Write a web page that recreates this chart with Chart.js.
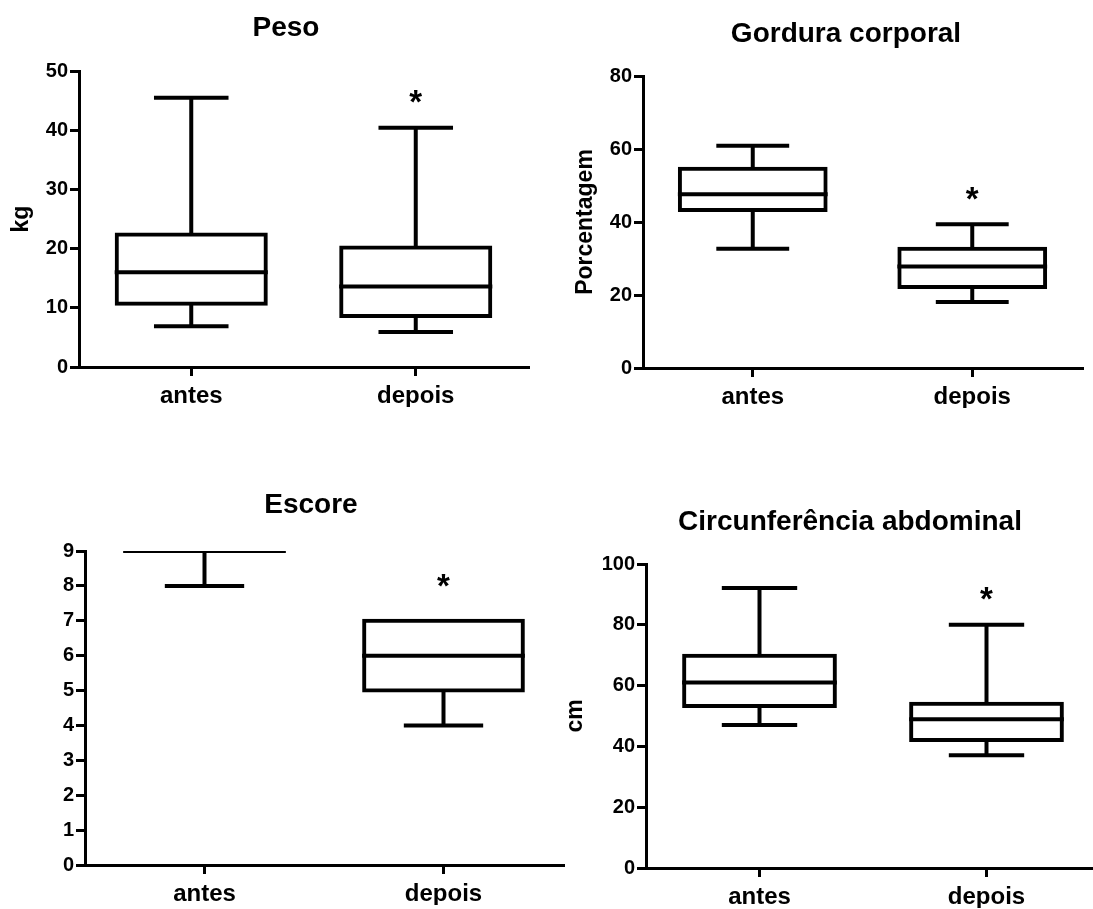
<!DOCTYPE html>
<html>
<head>
<meta charset="utf-8">
<title>Antes e depois</title>
<script src="https://cdn.jsdelivr.net/npm/chart.js@4.4.0/dist/chart.umd.min.js"></script>
<style>
  html, body { margin: 0; padding: 0; background: #fff; }
  body { width: 1093px; height: 909px; position: relative; overflow: hidden; }
  canvas { position: absolute; }
</style>
</head>
<body>
<canvas id="pesoChart" width="560" height="454" style="left:0px;top:0px"></canvas>
<canvas id="gorduraChart" width="547" height="454" style="left:546px;top:0px"></canvas>
<canvas id="escoreChart" width="570" height="455" style="left:0px;top:454px"></canvas>
<canvas id="circChart" width="570" height="455" style="left:546px;top:454px"></canvas>
<script>
const categories = ['antes', 'depois'];

// Peso (kg)
const pesoMin = [6.9, 5.9];
const pesoQ1 = [10.7, 8.6];
const pesoMedian = [16.0, 13.6];
const pesoQ3 = [22.4, 20.2];
const pesoMax = [45.5, 40.4];
const pesoStar = [null, 45.4];
const pesoTicks = [0, 10, 20, 30, 40, 50];

// Gordura corporal (%)
const gorduraMin = [32.7, 18.1];
const gorduraQ1 = [43.3, 22.2];
const gorduraMedian = [47.6, 27.8];
const gorduraQ3 = [54.6, 32.7];
const gorduraMax = [60.9, 39.4];
const gorduraStar = [null, 47.4];
const gorduraTicks = [0, 20, 40, 60, 80];

// Escore
const escoreMin = [8, 4];
const escoreQ1 = [9, 5];
const escoreMedian = [9, 6];
const escoreQ3 = [9, 7];
const escoreMax = [9, 7];
const escoreStar = [null, 8.1];
const escoreTicks = [0, 1, 2, 3, 4, 5, 6, 7, 8, 9];

// Circunferencia abdominal (cm)
const circMin = [47.0, 37.1];
const circQ1 = [53.3, 42.1];
const circMedian = [61.0, 48.9];
const circQ3 = [69.8, 54.0];
const circMax = [92.1, 80.0];
const circStar = [null, 89.6];
const circTicks = [0, 20, 40, 60, 80, 100];

const fontFamily = '"Liberation Sans", Arial, Helvetica, sans-serif';

function makeWhiskerPlugin(box) {
    return {
        id: 'whiskers',
        afterDatasetsDraw(chart) {
            const { ctx, chartArea } = chart;
            const y = chart.scales.y;
            const bars = chart.getDatasetMeta(0).data;
            const line = (x1, y1, x2, y2) => {
                ctx.beginPath();
                ctx.moveTo(x1, y1);
                ctx.lineTo(x2, y2);
                ctx.stroke();
            };
            ctx.save();
            ctx.beginPath();
            ctx.rect(chartArea.left, chartArea.top, chartArea.right - chartArea.left, chartArea.bottom - chartArea.top);
            ctx.clip();
            ctx.strokeStyle = '#000';
            ctx.fillStyle = '#000';
            ctx.lineWidth = 4;
            bars.forEach((bar, i) => {
                const half = bar.width / 2 + 2;
                const cap = bar.width / 4;
                const yMin = y.getPixelForValue(box.min[i]);
                const yQ1 = y.getPixelForValue(box.q1[i]);
                const yMed = y.getPixelForValue(box.median[i]);
                const yQ3 = y.getPixelForValue(box.q3[i]);
                const yMax = y.getPixelForValue(box.max[i]);
                if (box.max[i] > box.q3[i]) {
                    line(bar.x, yQ3, bar.x, yMax);
                    line(bar.x - cap, yMax, bar.x + cap, yMax);
                }
                if (box.min[i] < box.q1[i]) {
                    line(bar.x, yQ1, bar.x, yMin);
                    line(bar.x - cap, yMin, bar.x + cap, yMin);
                }
                line(bar.x - half, yMed, bar.x + half, yMed);
                // significance mark
                if (box.star[i] != null) {
                    ctx.font = `bold 33px ${fontFamily}`;
                    ctx.textAlign = 'center';
                    ctx.textBaseline = 'alphabetic';
                    ctx.fillText('*', bar.x, y.getPixelForValue(box.star[i]) + 0.45 * 33);
                }
            });
            ctx.restore();
        },
    };
}

function createBoxChart(canvasId, panel) {
    const axisGrid = {
        display: true,
        offset: false,
        drawOnChartArea: false,
        drawTicks: true,
        tickLength: 9,
        lineWidth: 3,
        color: '#000',
    };
    const axisBorder = { display: true, color: '#000', width: 3 };

    new Chart(document.getElementById(canvasId).getContext('2d'), {
        type: 'bar',
        data: {
            labels: categories,
            datasets: [
                {
                    data: panel.q1.map((v, i) => [v, panel.q3[i]]),
                    backgroundColor: '#fff',
                    borderColor: '#000',
                    borderWidth: 4,
                    borderSkipped: false,
                    inflateAmount: 2,
                    barPercentage: 0.664,
                    categoryPercentage: 1,
                },
            ],
        },
        options: {
            responsive: false,
            animation: false,
            devicePixelRatio: 1,
            events: [],
            layout: { padding: panel.padding },
            plugins: {
                legend: { display: false },
                tooltip: { enabled: false },
                title: {
                    display: true,
                    text: panel.title,
                    color: '#000',
                    font: { family: fontFamily, size: 28, weight: 'bold' },
                    padding: panel.titlePadding,
                },
            },
            scales: {
                x: {
                    offset: true,
                    grid: axisGrid,
                    border: axisBorder,
                    ticks: {
                        color: '#000',
                        font: { family: fontFamily, size: 24, weight: 'bold' },
                        padding: 6,
                        maxRotation: 0,
                    },
                    afterFit: scale => { scale.height = 40; },
                },
                y: {
                    min: 0,
                    max: panel.ticks[panel.ticks.length - 1],
                    afterBuildTicks: scale => { scale.ticks = panel.ticks.map(value => ({ value })); },
                    grid: axisGrid,
                    border: axisBorder,
                    ticks: {
                        color: '#000',
                        font: { family: fontFamily, size: 20, weight: 'bold' },
                        padding: 2,
                    },
                    title: {
                        display: !!panel.yTitle,
                        text: panel.yTitle || '',
                        color: '#000',
                        font: { family: fontFamily, size: 23, weight: 'bold' },
                        padding: { top: panel.yTitleOffset || 0, bottom: 0 },
                    },
                    afterFit: scale => { scale.width = panel.yWidth; },
                },
            },
        },
        plugins: [makeWhiskerPlugin(panel)],
    });
}

createBoxChart('pesoChart', {
    title: 'Peso', yTitle: 'kg',
    min: pesoMin, q1: pesoQ1, median: pesoMedian, q3: pesoQ3, max: pesoMax, star: pesoStar, ticks: pesoTicks,
    padding: { left: 44, right: 32, top: 0, bottom: 47 },
    titlePadding: { top: 11.2, bottom: 26.2 },
    yWidth: 35, yTitleOffset: -35.8,
});

createBoxChart('gorduraChart', {
    title: 'Gordura corporal', yTitle: 'Porcentagem',
    min: gorduraMin, q1: gorduraQ1, median: gorduraMedian, q3: gorduraQ3, max: gorduraMax, star: gorduraStar, ticks: gorduraTicks,
    padding: { left: 64, right: 11, top: 0, bottom: 46 },
    titlePadding: { top: 17.2, bottom: 25.2 },
    yWidth: 33, yTitleOffset: -37.8,
});

createBoxChart('escoreChart', {
    title: 'Escore', yTitle: '',
    min: escoreMin, q1: escoreQ1, median: escoreMedian, q3: escoreQ3, max: escoreMax, star: escoreStar, ticks: escoreTicks,
    padding: { left: 59, right: 7, top: 0, bottom: 4 },
    titlePadding: { top: 34.2, bottom: 29.2 },
    yWidth: 26,
});

createBoxChart('circChart', {
    title: 'Circunferência abdominal', yTitle: 'cm',
    min: circMin, q1: circQ1, median: circMedian, q3: circQ3, max: circMax, star: circStar, ticks: circTicks,
    padding: { left: 54, right: 16, top: 0, bottom: 1 },
    titlePadding: { top: 51.2, bottom: 25.2 },
    yWidth: 46, yTitleOffset: -37.8,
});
</script>
</body>
</html>
